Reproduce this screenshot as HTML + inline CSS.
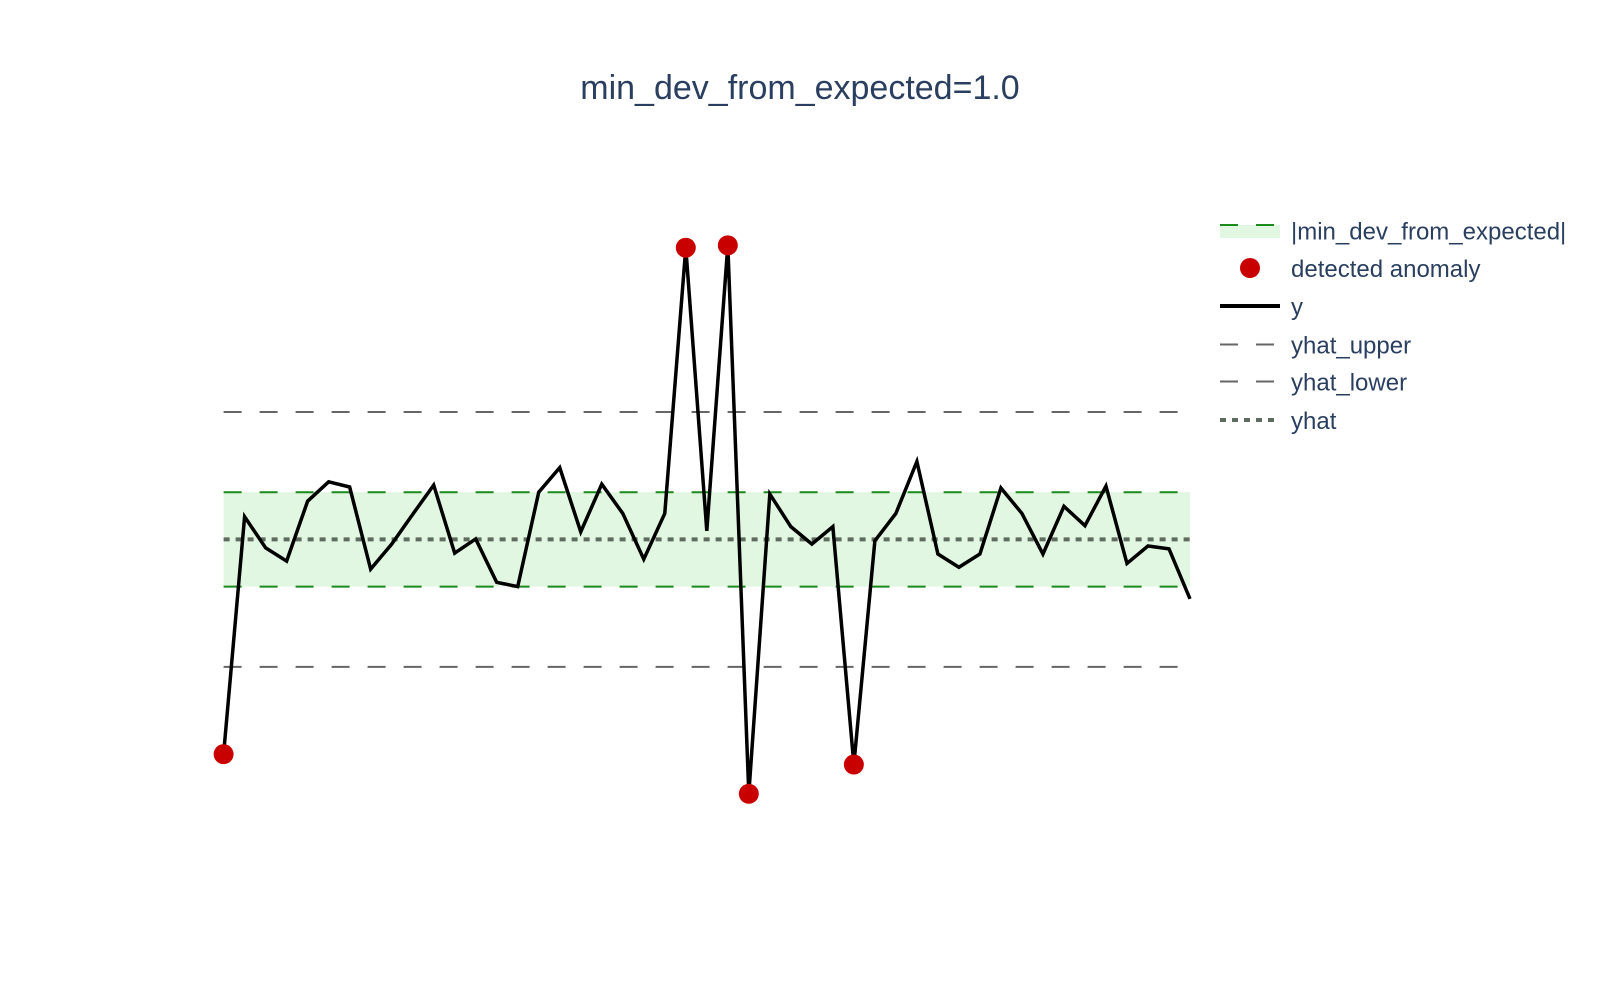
<!DOCTYPE html>
<html><head><meta charset="utf-8"><style>
body{margin:0;background:#fff;}
svg text{font-family:"Liberation Sans",sans-serif;fill:#2a3f5f;}
</style></head><body>
<svg id="chart" width="1600" height="1000">
<text x="800" y="99" font-size="34" text-anchor="middle">min_dev_from_expected=1.0</text>
<g id="plot"></g>
<g>
 <g>
  <rect x="1220" y="225" width="60" height="13" fill="#e2f7e2"/>
  <line x1="1220" y1="225" x2="1280" y2="225" stroke="#1a8a1a" stroke-width="2" stroke-dasharray="18,18"/>
  <text x="1291" y="239.5" font-size="24">|min_dev_from_expected|</text></g>
 <g>
  <circle cx="1250" cy="268" r="10" fill="#c80000"/>
  <text x="1291" y="277" font-size="24">detected anomaly</text></g>
 <g>
  <line x1="1220" y1="306" x2="1280" y2="306" stroke="#000" stroke-width="4"/>
  <text x="1291" y="315" font-size="24">y</text></g>
 <g>
  <line x1="1220" y1="344.5" x2="1280" y2="344.5" stroke="#666" stroke-width="2" stroke-dasharray="18,18"/>
  <text x="1291" y="353.5" font-size="24">yhat_upper</text></g>
 <g>
  <line x1="1220" y1="381.5" x2="1280" y2="381.5" stroke="#666" stroke-width="2" stroke-dasharray="18,18"/>
  <text x="1291" y="390.5" font-size="24">yhat_lower</text></g>
 <g>
  <line x1="1220" y1="420" x2="1280" y2="420" stroke="#5f6b5f" stroke-width="4" stroke-dasharray="6,6"/>
  <text x="1291" y="429" font-size="24">yhat</text></g>
</g>
</svg>
<script>
const yValues=[-4.55,0.48,-0.18,-0.46,0.81,1.22,1.11,-0.63,-0.10,0.53,1.15,-0.29,0.01,-0.91,-1.00,1.00,1.52,0.16,1.17,0.55,-0.42,0.55,6.18,0.18,6.23,-5.39,0.96,0.27,-0.10,0.27,-4.77,-0.03,0.55,1.65,-0.31,-0.59,-0.31,1.09,0.55,-0.31,0.70,0.29,1.13,-0.51,-0.14,-0.20,-1.26];
const anomalyIdx=[0,22,24,25,30];
const yhat=0;
const yhatUpper=2.70;
const yhatLower=-2.70;
const minDev=1.0;

const X0=223.6,X1=1190,Y0=539.4,K=47.2;
const xs=i=>X0+(X1-X0)*i/(yValues.length-1);
const ys=v=>Y0-v*K;
const NS='http://www.w3.org/2000/svg';
const g=document.getElementById('plot');
function mk(tag,attrs){const e=document.createElementNS(NS,tag);for(const k in attrs)e.setAttribute(k,attrs[k]);g.appendChild(e);return e;}

const band=mk('rect',{x:X0,y:ys(yhat+minDev),width:X1-X0,height:ys(yhat-minDev)-ys(yhat+minDev),fill:'#e2f7e2'});


const bu=mk('line',{x1:X0,x2:X1,y1:ys(yhat+minDev),y2:ys(yhat+minDev),stroke:'#1a8a1a','stroke-width':2,'stroke-dasharray':'18,18'});


const bl=mk('line',{x1:X0,x2:X1,y1:ys(yhat-minDev),y2:ys(yhat-minDev),stroke:'#1a8a1a','stroke-width':2,'stroke-dasharray':'18,18'});


const up=mk('line',{x1:X0,x2:X1,y1:ys(yhatUpper),y2:ys(yhatUpper),stroke:'#666','stroke-width':2,'stroke-dasharray':'18,18'});


const lo=mk('line',{x1:X0,x2:X1,y1:ys(yhatLower),y2:ys(yhatLower),stroke:'#666','stroke-width':2,'stroke-dasharray':'18,18'});


const yh=mk('line',{x1:X0,x2:X1,y1:ys(yhat),y2:ys(yhat),stroke:'#5f6b5f','stroke-width':4,'stroke-dasharray':'6,6'});


const pts=yValues.map((v,i)=>xs(i)+','+ys(v)).join(' ');
const yl=mk('polyline',{points:pts,fill:'none',stroke:'#000','stroke-width':3.5,'stroke-linejoin':'miter'});


anomalyIdx.forEach(i=>{
 const c=mk('circle',{cx:xs(i),cy:ys(yValues[i]),r:10,fill:'#c80000'});
 
 
});
</script>
</body></html>
